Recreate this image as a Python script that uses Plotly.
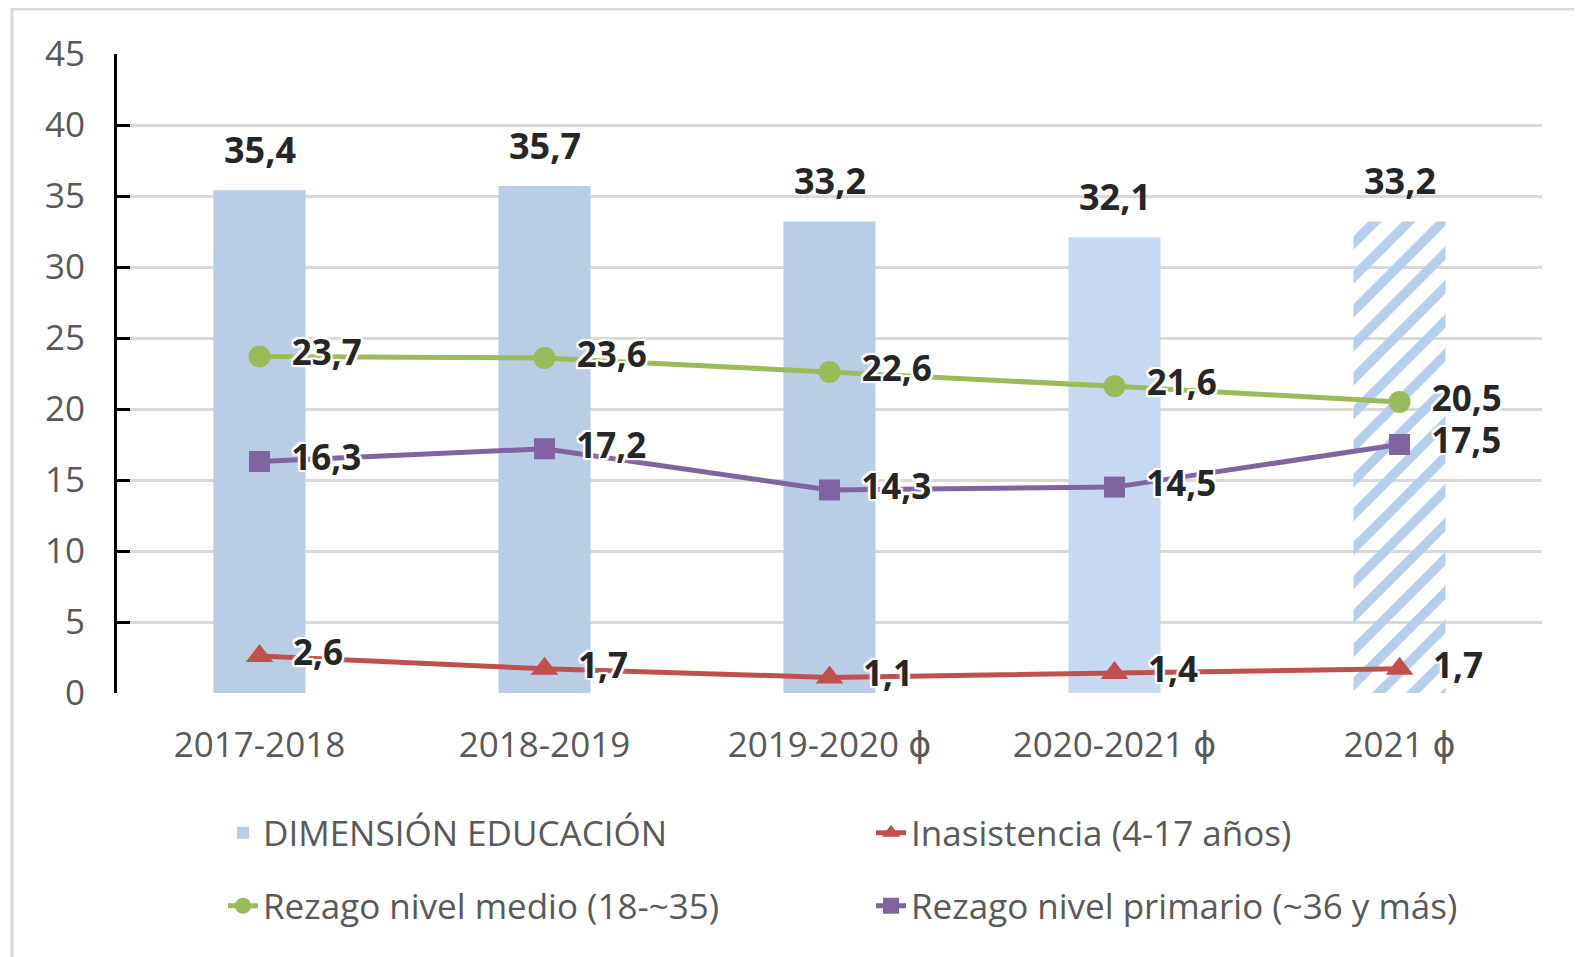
import plotly.graph_objects as go

categories = ["2017-2018", "2018-2019", "2019-2020 ϕ", "2020-2021 ϕ", "2021 ϕ"]
educacion = [35.4, 35.7, 33.2, 32.1, 33.2]
inasistencia = [2.6, 1.7, 1.1, 1.4, 1.7]
rezago_medio = [23.7, 23.6, 22.6, 21.6, 20.5]
rezago_primario = [16.3, 17.2, 14.3, 14.5, 17.5]
y_ticks = [0, 5, 10, 15, 20, 25, 30, 35, 40, 45]

FONT = "Open Sans, DejaVu Sans, sans-serif"
fmt = lambda v: f"{v:.1f}".replace(".", ",")
glow = ("-2px -2px 0 #fff, 2px -2px 0 #fff, -2px 2px 0 #fff, 2px 2px 0 #fff, "
        "0 -2px 0 #fff, 0 2px 0 #fff, -2px 0 0 #fff, 2px 0 0 #fff, 0 0 5px #fff")

fig = go.Figure()

fig.add_trace(go.Bar(
    x=categories, y=educacion, name="DIMENSIÓN EDUCACIÓN",
    marker=dict(
        color=["#B9CDE5", "#B9CDE5", "#B9CDE5", "#C6D9F1", "#B5CEEB"],
        line=dict(width=0),
        pattern=dict(shape=["", "", "", "", "/"], bgcolor="white",
                     size=24, solidity=0.4, fillmode="replace"),
    ),
    legend="legend", hoverinfo="skip", cliponaxis=False,
))

def line_trace(vals, name, color, symbol, size, legend):
    return go.Scatter(
        x=categories, y=vals, name=name, mode="lines+markers+text",
        line=dict(color=color, width=5),
        marker=dict(symbol=symbol, size=size, color=color),
        text=["\u2002" + fmt(v) for v in vals], textposition="middle right",
        textfont=dict(family=FONT, size=35, color="#262626", weight="bold", shadow=glow),
        legend=legend, hoverinfo="skip", cliponaxis=False,
    )

fig.add_trace(line_trace(inasistencia, "Inasistencia (4-17 años)", "#C0504D", "triangle-up", 24, "legend"))
fig.add_trace(line_trace(rezago_medio, "Rezago nivel medio (18-~35)", "#9BBB59", "circle", 22, "legend2"))
fig.add_trace(line_trace(rezago_primario, "Rezago nivel primario (~36 y más)", "#8064A2", "square", 21, "legend2"))

for c, v in zip(categories, educacion):
    fig.add_annotation(x=c, y=v, text=fmt(v), showarrow=False, yanchor="middle", yshift=41,
                       font=dict(family=FONT, size=36, color="#262626", weight="bold"))

legend_common = dict(
    orientation="h", xanchor="left", yanchor="middle",
    font=dict(family=FONT, size=35, color="#595959"),
    entrywidth=603, entrywidthmode="pixels", bgcolor="rgba(0,0,0,0)",
)

fig.update_layout(
    width=1574, height=949,
    margin=dict(l=109, r=40, t=46, b=264, autoexpand=False),
    paper_bgcolor="white", plot_bgcolor="white",
    font=dict(family=FONT, color="#595959"),
    barmode="overlay", bargap=0.677,
    legend=dict(x=0.0744, y=-0.2191, **legend_common),
    legend2=dict(x=0.0744, y=-0.3333, **legend_common),
    xaxis=dict(
        showgrid=False, showline=False, ticks="",
        tickfont=dict(family=FONT, size=35, color="#595959"),
        ticklabelstandoff=28,
    ),
    yaxis=dict(
        range=[0, 45], tickvals=y_ticks, showgrid=True, gridcolor="#D9D9D9", gridwidth=3,
        showline=True, linecolor="black", linewidth=3,
        ticks="inside", ticklen=13, tickwidth=3, tickcolor="black",
        tickfont=dict(family=FONT, size=35, color="#595959"),
        ticklabelstandoff=22, zeroline=False,
    ),
    shapes=[dict(type="rect", xref="paper", yref="paper",
                 x0=-0.0737, y0=-0.6, x1=1.2, y1=1.0704,
                 line=dict(color="#D9D9D9", width=3), layer="below")],
)

fig.write_html("out.html")
